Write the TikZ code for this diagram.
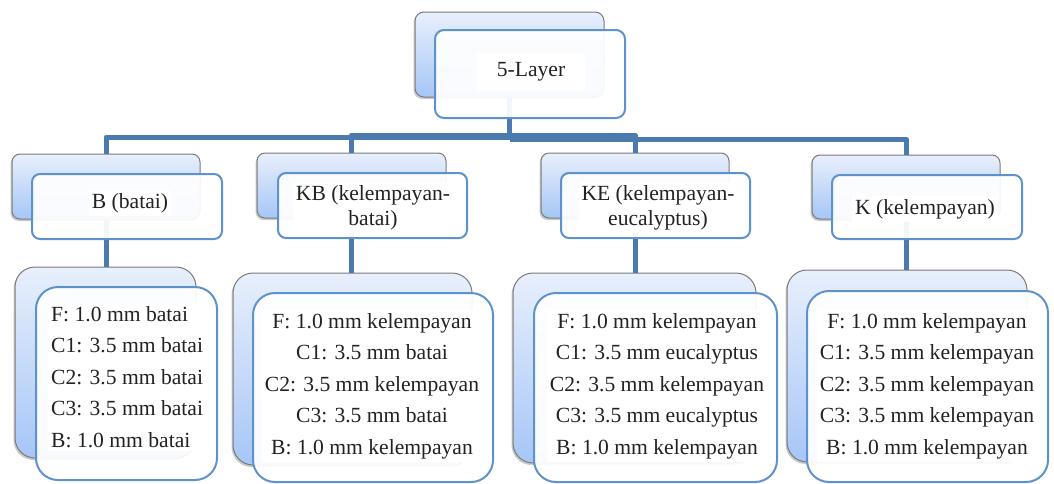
\documentclass[tikz,border=0pt]{standalone}
\usepackage{fontspec}
\setmainfont{Liberation Serif}
\usetikzlibrary{shadows}
\definecolor{conncol}{HTML}{4A7AAE}
\definecolor{backtop}{HTML}{E8EFFC}
\definecolor{backbot}{HTML}{A6C6F6}
\definecolor{backdraw}{HTML}{7A7A7A}
\definecolor{frontdraw}{HTML}{5E92CC}
\definecolor{txt}{HTML}{222222}
\begin{document}
\begin{tikzpicture}[x=1pt,y=-1pt,
  backbox/.style={draw=backdraw, line width=1pt, top color=backtop, bottom color=backbot, inner sep=0pt,
    drop shadow={shadow xshift=-1.5pt, shadow yshift=-2pt, opacity=0.35, fill=black!60}},
  frontbox/.style={draw=frontdraw, line width=2pt, fill=white, fill opacity=0.93, inner sep=0pt},
  lbl/.style={font=\fontsize{21.6}{25}\selectfont, fill=white, inner sep=3pt, align=center, text=txt},
  lst/.style={font=\fontsize{21.6}{31.5}\selectfont, fill=white, inner sep=3pt, text=txt},
  connector/.style={draw=conncol, line width=5pt, line join=round}]
\useasboundingbox (0,0) rectangle (1054,483);
% back boxes
\node[backbox, rounded corners=9pt, minimum width=189pt, minimum height=85pt] (tb) at (509.5,54.5) {};
\node[backbox, rounded corners=8pt, minimum width=188pt, minimum height=65pt] (b2b) at (106,186.5) {};
\node[backbox, rounded corners=8pt, minimum width=189pt, minimum height=65pt] (kb2b) at (351.5,185.5) {};
\node[backbox, rounded corners=8pt, minimum width=188pt, minimum height=65pt] (ke2b) at (635,185.5) {};
\node[backbox, rounded corners=8pt, minimum width=188pt, minimum height=64pt] (k2b) at (906,187) {};
\node[backbox, rounded corners=20pt, minimum width=181pt, minimum height=191pt] (b3b) at (105.5,362.5) {};
\node[backbox, rounded corners=20pt, minimum width=239pt, minimum height=192pt] (kb3b) at (352.5,369) {};
\node[backbox, rounded corners=20pt, minimum width=243pt, minimum height=190pt] (ke3b) at (634.5,368) {};
\node[backbox, rounded corners=20pt, minimum width=240pt, minimum height=192pt] (k3b) at (907,366) {};
% connectors
\coordinate (busB) at (tb.south |- 0,137);
\coordinate (busKB) at (tb.south |- 0,135);
\coordinate (busK) at (tb.south |- 0,139);
\draw[connector] (tb.south) -- (busB);
\draw[connector] (b2b.north) |- (busB);
\draw[connector] (kb2b.north) |- (busKB);
\draw[connector] (ke2b.north) |- (busKB);
\draw[connector] (k2b.north) |- (busK);
\draw[connector] (b2b.south) -- (b2b.south |- b3b.north);
\draw[connector] (kb2b.south) -- (kb2b.south |- kb3b.north);
\draw[connector] (ke2b.south) -- (ke2b.south |- ke3b.north);
\draw[connector] (k2b.south) -- (k2b.south |- k3b.north);
% front boxes
\node[frontbox, rounded corners=9pt, minimum width=190pt, minimum height=88pt] (tf) at (530,74) {};
\node[frontbox, rounded corners=8pt, minimum width=190pt, minimum height=65pt] (b2f) at (127,206.5) {};
\node[frontbox, rounded corners=8pt, minimum width=189pt, minimum height=65pt] (kb2f) at (372.5,205.5) {};
\node[frontbox, rounded corners=8pt, minimum width=189pt, minimum height=65pt] (ke2f) at (655.5,205.5) {};
\node[frontbox, rounded corners=8pt, minimum width=190pt, minimum height=64pt] (k2f) at (927,207) {};
\node[frontbox, rounded corners=22pt, minimum width=181pt, minimum height=193pt] (b3f) at (126.5,383.5) {};
\node[frontbox, rounded corners=22pt, minimum width=240pt, minimum height=189pt] (kb3f) at (373,387.5) {};
\node[frontbox, rounded corners=22pt, minimum width=243pt, minimum height=189pt] (ke3f) at (655.5,387.5) {};
\node[frontbox, rounded corners=22pt, minimum width=241pt, minimum height=191pt] (k3f) at (927.5,386.5) {};
% texts
\node[lbl, inner xsep=20pt, inner ysep=10pt] (tt) at (531,72) {5-Layer};
\node[lbl] (b2t) at (130,203) {B (batai)};
\node[lbl] (kb2t) at (373,207.5) {KB (kelempayan-\\batai)};
\node[lbl] (ke2t) at (658,207.5) {KE (kelempayan-\\eucalyptus)};
\node[lbl] (k2t) at (925,209) {K (kelempayan)};
\node[lst, align=left, anchor=west] (b3t) at (48,377) {F: 1.0 mm batai\\C1: 3.5 mm batai\\C2: 3.5 mm batai\\C3: 3.5 mm batai\\B: 1.0 mm batai};
\node[lst, align=center] (kb3t) at (372,386) {F: 1.0 mm kelempayan\\C1: 3.5 mm batai\\C2: 3.5 mm kelempayan\\C3: 3.5 mm batai\\B: 1.0 mm kelempayan};
\node[lst, align=center] (ke3t) at (657,386) {F: 1.0 mm kelempayan\\C1: 3.5 mm eucalyptus\\C2: 3.5 mm kelempayan\\C3: 3.5 mm eucalyptus\\B: 1.0 mm kelempayan};
\node[lst, align=center] (k3t) at (927,386) {F: 1.0 mm kelempayan\\C1: 3.5 mm kelempayan\\C2: 3.5 mm kelempayan\\C3: 3.5 mm kelempayan\\B: 1.0 mm kelempayan};
\end{tikzpicture}
\end{document}
